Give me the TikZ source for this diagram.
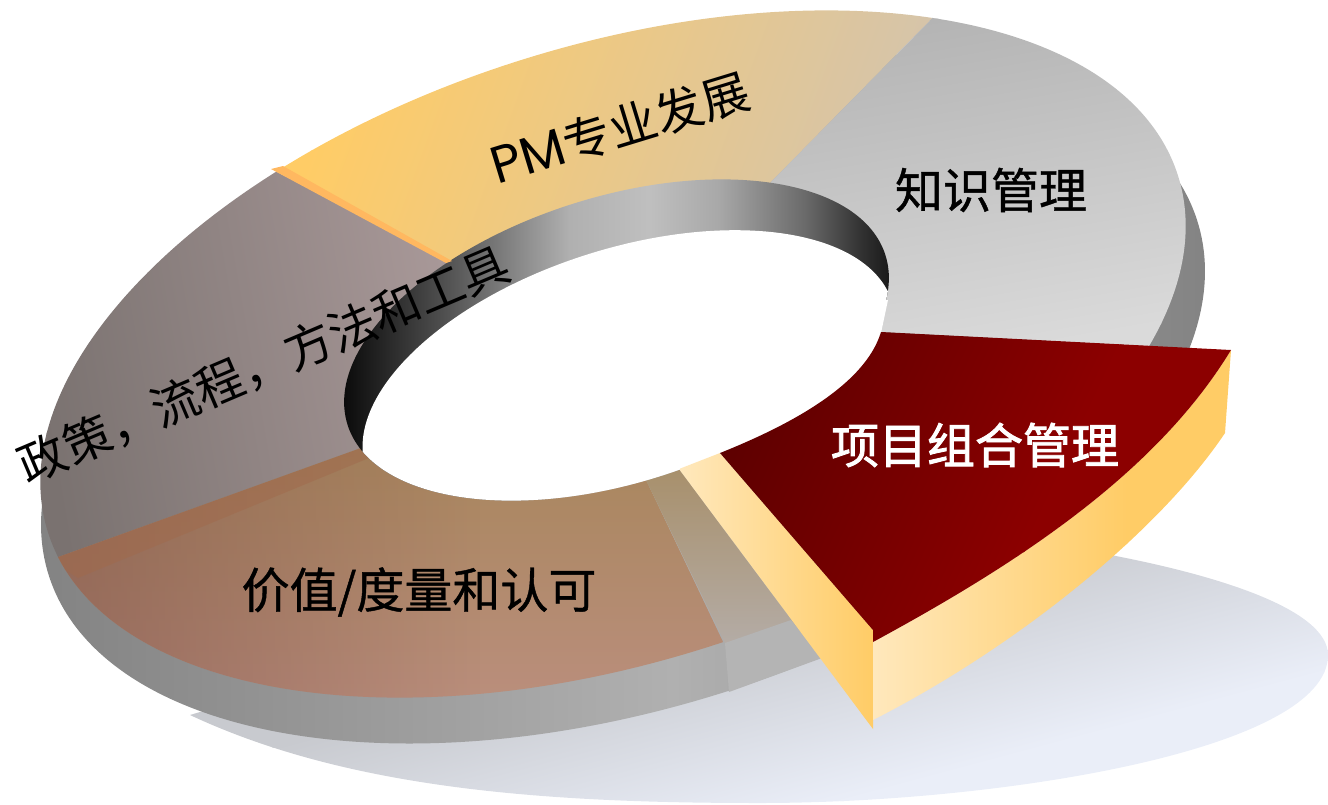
\documentclass[tikz,border=0pt]{standalone}
\usepackage{fontspec}
\usetikzlibrary{fadings}
\newfontfamily\cjk{Noto Sans CJK SC}
\newfontfamily\cjkmed[FakeBold=0.9]{Noto Sans CJK SC}
\newfontfamily\cjkbold[FakeBold=1.8]{Noto Sans CJK SC}
\newfontfamily\pmfont{Poppins}
\definecolor{sideA}{HTML}{808080}\definecolor{sideB}{HTML}{B0B0B0}
\definecolor{yelA}{HTML}{FFCC66}\definecolor{yelB}{HTML}{D4C4AC}
\definecolor{greyA}{HTML}{B4B4B4}\definecolor{greyB}{HTML}{DADADA}
\definecolor{purA}{HTML}{7A7270}\definecolor{purB}{HTML}{A89898}
\definecolor{brA}{HTML}{A8865C}\definecolor{brB}{HTML}{BA8E7C}\definecolor{brD}{HTML}{7C4E48}
\definecolor{ghA}{HTML}{A8906C}\definecolor{ghB}{HTML}{B4ACA6}
\definecolor{blockc}{HTML}{B4B4B4}
\definecolor{shA}{HTML}{C8CACF}\definecolor{shB}{HTML}{EAEEF8}
\definecolor{redA}{HTML}{5A0000}\definecolor{redB}{HTML}{8C0000}
\definecolor{wallL}{HTML}{FFE8BC}\definecolor{wallD}{HTML}{FFCC66}
\definecolor{stripY}{HTML}{FFB860}\definecolor{stripB}{HTML}{A06A4C}
\pgfdeclarehorizontalshading{wallshade}{100bp}{
 color(0bp)=(black!96);color(25bp)=(black!96);
 color(34.8bp)=(black!67);color(45.7bp)=(black!31);color(53bp)=(black!25);
 color(59.3bp)=(black!34);color(67.4bp)=(black!59);color(72.5bp)=(black!81);
 color(75bp)=(black!90);color(100bp)=(black!90)}
\pgfdeclarehorizontalshading{sideshade}{100bp}{
 color(0bp)=(sideA);color(25bp)=(sideA);color(52bp)=(sideB);color(75bp)=(sideA);color(100bp)=(sideA)}
\colorlet{bandA}{black}\colorlet{bandB}{white}
\pgfdeclarehorizontalshading[bandA,bandB]{bandshade}{100bp}{
 color(0bp)=(bandA);color(25bp)=(bandA);color(75bp)=(bandB);color(100bp)=(bandB)}
\tikzfading[name=fadeR,left color=transparent!45,right color=transparent!100]
% gradient band: centre x, centre y, angle, half length, colour A, colour B
\newcommand{\gradband}[6]{%
 \colorlet{bandA}{#5}\colorlet{bandB}{#6}%
 \begin{scope}[shift={(#1,#2)},rotate=#3]
 \fill[#5] (-2500,-2000) rectangle (-#4+1,2000);
 \fill[#6] (#4-1,-2000) rectangle (2500,2000);
 \end{scope}
 \shade[transform canvas={shift={(#1,#2)},rotate=#3},shading=bandshade] (-#4,-2000) rectangle (#4,2000);}
\tikzset{
 outerE/.style={shift={(613,354)},rotate=17.5},
 sideE/.style={shift={(623,398)},rotate=17},
 innerE/.style={shift={(616.5,340)},rotate=17.5},
 holeE/.style={shift={(629,385)},rotate=17.5},
 lbl/.style={font=\fontsize{48}{48}\selectfont,inner sep=0pt}
}
\begin{document}
\begin{tikzpicture}[x=1pt,y=-1pt]
\useasboundingbox (0,0) rectangle (1328,804);
% shadow
\begin{scope}
\clip (190,715) .. controls (350,790) and (550,803) .. (760,803)
  .. controls (1000,803) and (1328,750) .. (1328,655)
  .. controls (1328,610) and (1220,575) .. (1100,553) -- (900,500) -- cycle;
\gradband{760}{720}{-75}{100}{shA}{shB}
\end{scope}
% side of the ring
\shade[sideE,shading=sideshade] (0,0) ellipse [x radius=601pt,y radius=311pt];
% top sectors
\begin{scope}
\clip[outerE] (0,0) ellipse [x radius=592.5pt,y radius=308pt];
% yellow
\begin{scope}
\clip (271,169) -- (450,262) -- (770,183) -- (960,-10) -- (200,-10) -- cycle;
\gradband{620}{120}{-20}{280}{yelA}{yelB}
\end{scope}
% grey
\begin{scope}
\clip (960,-10) -- (770,183) -- (880,332) -- (1300,354) -- (1300,-10) -- cycle;
\gradband{1000}{180}{-80}{170}{greyA}{greyB}
\end{scope}
% purple
\begin{scope}
\clip (0,28) -- (450,262) -- (500,400) -- (361,448) -- (0,578) -- cycle;
\gradband{245}{350}{10}{210}{purA}{purB}
\end{scope}
% brown
\begin{scope}
\clip (361,448) -- (0,578) -- (0,810) -- (803,810) -- (647,482) -- (600,400) -- cycle;
\shade[top color=brA,bottom color=brB] (0,440) rectangle (810,700);
\fill[brD,path fading=fadeR] (40,440) rectangle (480,720);
\fill[stripB,opacity=.5] (361,448) -- (50,560) -- (78,578) -- (369,458) -- cycle;
\end{scope}
\end{scope}
% ghost of the pulled-out sector
\begin{scope}
\clip (647,482) -- (630,445) -- (660,430) -- (679,469) -- (800,632) -- (725,643) -- cycle;
\shade[top color=ghA,bottom color=ghB] (620,470) rectangle (810,645);
\end{scope}
\fill[blockc] (725,643) -- (729,692) -- (822,658) -- (791,620) -- cycle;
% hole
\begin{scope}
\clip[innerE] (0,0) ellipse [x radius=282pt,y radius=143pt];
\shade[shading=wallshade] (343,170) rectangle (890,510);
\fill[white,holeE] (0,0) ellipse [x radius=276pt,y radius=137pt];
\end{scope}
\fill[white] (888,300) -- (881,333) -- (880,420) -- (720,470) -- (690,400) -- (800,300) -- cycle;
% strip between yellow and purple
\fill[stripY] (271,169) -- (283,166) -- (452,261) -- (446,263) -- cycle;
% pulled-out sector
\begin{scope}
\clip (679,469) -- (720,453) -- (873,630) -- (873,729) -- cycle;
\shade[left color=wallL,right color=wallD] (680,450) rectangle (873,730);
\end{scope}
\begin{scope}
\clip (1231,350) -- (1225,433) .. controls (1160,530) and (1020,645) .. (873,720) -- (873,642) .. controls (1015,565) and (1155,475) .. (1231,350) -- cycle;
\gradband{1000}{540}{0}{127}{wallL}{wallD}
\end{scope}
\begin{scope}
\clip (881,332) -- (1231,350) .. controls (1155,475) and (1015,565) .. (873,642) -- (873,630) -- (720,453) .. controls (790,425) and (865,385) .. (881,332) -- cycle;
\gradband{880}{460}{-25}{170}{redA}{redB}
\end{scope}
% labels
\node[lbl] (pm) at (620,128) [rotate=17] {{\fontsize{52}{52}\selectfont\pmfont PM}\cjk 专业发展};
\node[lbl] (km) at (991,190) {\cjkmed 知识管理};
\node[lbl,text=white] (ppm) at (975,445) {\cjkbold 项目组合管理};
\node[lbl] (val) at (419,592) {\cjkmed 价值/度量和认可};
\node[lbl] (pol) at (264,365) [rotate=23] {\cjk 政策，流程，方法和工具};
\end{tikzpicture}
\end{document}
